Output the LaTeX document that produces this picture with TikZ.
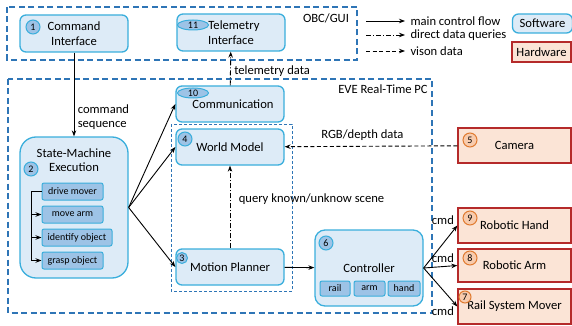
\documentclass[tikz,border=0pt]{standalone}
\usepackage{fontspec}
\setmainfont{Carlito}
\usetikzlibrary{arrows.meta,shapes.geometric}

\definecolor{swfill}{HTML}{DDEBF7}
\definecolor{swline}{HTML}{3AAEDC}
\definecolor{subfill}{HTML}{9DC3E6}
\definecolor{hwfill}{HTML}{FBE4D6}
\definecolor{hwline}{HTML}{B52A2A}
\definecolor{numfill}{HTML}{F8CBAD}
\definecolor{numline}{HTML}{E07B30}
\definecolor{grpline}{HTML}{2E75B6}

\begin{document}
\begin{tikzpicture}[x=1pt,y=-1pt,
  font=\fontsize{12.6}{14.5}\selectfont,
  swbox/.style={draw=swline, fill=swfill, line width=1.3pt, rounded corners=6pt,
    align=center, inner sep=0pt, minimum width=108pt},
  hwbox/.style={draw=hwline, fill=hwfill, line width=1.3pt, align=center,
    inner sep=0pt, minimum width=113pt},
  subbox/.style={draw=swline, fill=subfill, line width=1pt, rounded corners=2pt,
    inner sep=0pt, minimum height=17pt, font=\fontsize{10}{11}\selectfont},
  numsw/.style={circle, draw=swline, fill=subfill, line width=1pt, inner sep=0pt,
    minimum size=14pt, font=\fontsize{10}{11}\selectfont},
  numell/.style={numsw, ellipse, minimum width=31pt, minimum height=10pt},
  numhw/.style={circle, draw=numline, fill=numfill, line width=1pt, inner sep=0pt,
    minimum size=14pt, font=\fontsize{10}{11}\selectfont},
  grpbox/.style={draw=grpline, line width=1.2pt, dash pattern=on 6pt off 3.5pt},
  flow/.style={-{Stealth[length=6pt,width=4.5pt]}, line width=0.9pt},
  query/.style={flow, dash pattern=on 5pt off 2pt on 1pt off 2pt},
  vision/.style={flow, dash pattern=on 4pt off 2.5pt},
  cmdlbl/.style={pos=1, anchor=east, inner sep=1pt, xshift=-2pt},
]
  \useasboundingbox (0,0) rectangle (572,326);

  % group frames
  \draw[grpbox] (7,7) rectangle (357,60);
  \draw[grpbox] (8,79) rectangle (432,313);
  \draw[draw=grpline, line width=0.8pt, dash pattern=on 3pt off 2pt] (171,124) rectangle (292,291);
  \node (obc) at (326,18) {OBC/GUI};
  \node (eve) at (383,89) {EVE Real-Time PC};

  % software
  \node[swbox, minimum height=37pt] (cmdif) at (74,33.5) {Command\\Interface};
  \node[swbox, minimum height=37pt] (telif) at (231,32.5) {\hspace*{6pt}Telemetry\\Interface};
  \node[swbox, minimum height=36pt] (comm) at (230,104) {\hspace*{6pt}Communication};
  \node[swbox, minimum height=36pt] (world) at (230,147) {World Model};
  \node[swbox, minimum height=36pt] (plan) at (230,267) {Motion Planner};
  \node[swbox, minimum height=141pt, rounded corners=16pt] (sm) at (74,207.5) {};
  \node[align=center] (smtitle) at (74,160) {State-Machine\\Execution};
  \node[swbox, minimum height=76pt, rounded corners=10pt] (ctrl) at (369,268) {Controller};

  \node[subbox, minimum width=61pt] (drive) at (72.5,191.5) {drive mover};
  \node[subbox, minimum width=61pt] (move) at (72.5,214.5) {move arm};
  \node[subbox, minimum width=70pt] (ident) at (77,237.5) {identify object};
  \node[subbox, minimum width=61pt] (grasp) at (72.5,260.5) {grasp object};

  \node[subbox, minimum width=30pt, minimum height=15pt] (crail) at (335,288.5) {rail};
  \node[subbox, minimum width=31pt, minimum height=15pt] (carm) at (369.5,288.5) {arm};
  \node[subbox, minimum width=32pt, minimum height=15pt] (chand) at (404,288.5) {hand};

  \node[numsw] (n1) at (33,27) {1};
  \node[numsw] (n2) at (31,169) {2};
  \node[numsw, minimum size=11pt] (n3) at (182,258) {3};
  \node[numsw] (n4) at (185,139) {4};
  \node[numsw] (n6) at (326,243) {6};
  \node[numell] (n10) at (193,93) {10};
  \node[numell] (n11) at (193,25) {11};

  % hardware
  \node[hwbox, minimum height=35pt] (cam) at (514.5,145.5) {Camera};
  \node[hwbox, minimum height=35pt] (hand) at (514.5,225.5) {Robotic Hand};
  \node[hwbox, minimum height=33pt] (arm) at (514.5,265.5) {Robotic Arm};
  \node[hwbox, minimum height=35pt] (rail) at (514.5,306.5) {Rail System Mover};
  \node[numhw] (n5) at (470,140) {5};
  \node[numhw] (n9) at (470,218) {9};
  \node[numhw] (n8) at (470,258) {8};
  \node[numhw, minimum size=12pt] (n7) at (465,297) {7};

  % connectors
  \draw[flow] (cmdif) -- (sm) node[pos=0.77, right, align=left] {command\\sequence};
  \draw[query] (comm) -- (telif) node[pos=0.43, right] {telemetry data};
  \draw[flow] (sm.east) -- (comm.west);
  \draw[flow] (sm.east) -- (world.west);
  \draw[flow] (sm.east) -- (plan.west);
  \draw[query] (plan) -- (world) node[pos=0.6, right, xshift=5pt] {query known/unknow scene};
  \draw[vision] (cam) -- (world) node[pos=0.55, above, yshift=2pt] {RGB/depth data};
  \draw[flow] (plan) -- (ctrl);
  \draw[flow] (ctrl.east) -- (hand.west) node[cmdlbl, yshift=5pt] {cmd};
  \draw[flow] (ctrl.east) -- (arm.west) node[cmdlbl, yshift=7pt] {cmd};
  \draw[flow] (ctrl.east) -- (rail.west) node[cmdlbl, yshift=-5pt] {cmd};

  \coordinate (brk) at (31,191.5);
  \draw[line width=0.9pt] (drive.west) -- (brk);
  \draw[flow] (brk) |- (grasp.west);
  \draw[flow] (brk |- move.west) -- (move.west);
  \draw[flow] (brk |- ident.west) -- (ident.west);

  % legend
  \coordinate (l1a) at (366,21); \coordinate (l1b) at (405,21);
  \coordinate (l2a) at (366,35); \coordinate (l2b) at (405,35);
  \coordinate (l3a) at (366,51); \coordinate (l3b) at (405,51);
  \draw[flow] (l1a) -- (l1b);
  \draw[query] (l2a) -- (l2b);
  \draw[vision] (l3a) -- (l3b);
  \node[anchor=west] (lg1) at (407,21) {main control flow};
  \node[anchor=west] (lg2) at (407,35) {direct data queries};
  \node[anchor=west] (lg3) at (407,51) {vison data};
  \node[swbox, minimum width=60pt, minimum height=19pt] (lgsw) at (542.5,23.5) {Software};
  \node[hwbox, minimum width=59pt, minimum height=20pt] (lghw) at (541.5,52) {Hardware};
\end{tikzpicture}
\end{document}
